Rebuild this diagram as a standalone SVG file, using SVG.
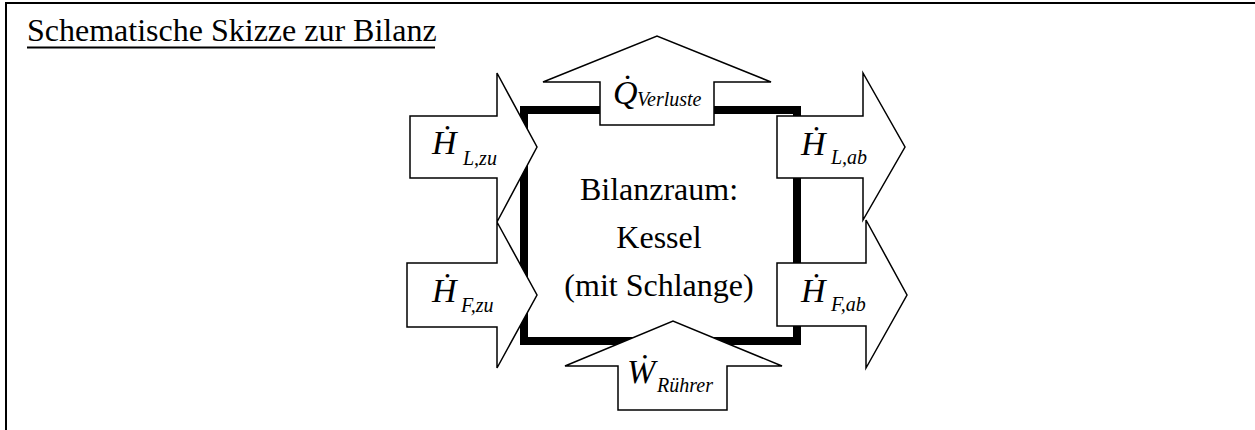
<svg xmlns="http://www.w3.org/2000/svg" width="1255" height="430" viewBox="0 0 1255 430">
<style>
.frame{fill:none;stroke:#000;stroke-width:2}
.box{fill:#fff;stroke:#000;stroke-width:8}
.arr{fill:#fff;stroke:#000;stroke-width:1.5;stroke-linejoin:miter}
.t{font-family:"Liberation Serif","Times New Roman",serif;fill:#000}
.title{font-size:32px}
.center{font-size:32px;text-anchor:middle}
.sym{font-size:34px;font-style:italic}
.sub{font-size:20px;font-style:italic}
</style>
<rect width="1255" height="430" fill="#fff"/>
<g id="frame">
<path class="frame" d="M6,430 V3 H1255"/>
<text class="t title" x="27" y="41">Schematische Skizze zur Bilanz</text>
<line x1="27" y1="47.5" x2="435" y2="47.5" stroke="#000" stroke-width="2"/>
</g>
<g id="bilanzraum">
<rect class="box" x="524" y="110" width="273" height="231"/>
<text class="t center" x="659" y="200">Bilanzraum:</text>
<text class="t center" x="659" y="248">Kessel</text>
<text class="t center" x="659" y="296">(mit Schlange)</text>
</g>
<g id="connectors">
<g id="q_verluste">
<path class="arr" d="M600,125 V82 H543 L657,36 L771,82 H714 V125 Z"/>
<text class="t sym" x="613" y="104">Q̇</text>
<text class="t sub" x="637" y="106">Verluste</text>
</g>
<g id="h_l_zu">
<path class="arr" d="M410,116 H497 V73 L537,147 L497,222 V178 H410 Z"/>
<text class="t sym" x="432" y="154">Ḣ</text>
<text class="t sub" x="463" y="165">L,zu</text>
</g>
<g id="h_f_zu">
<path class="arr" d="M407,263 H497 V222 L537,295 L497,368 V327 H407 Z"/>
<text class="t sym" x="432" y="302">Ḣ</text>
<text class="t sub" x="461" y="312">F,zu</text>
</g>
<g id="h_l_ab">
<path class="arr" d="M777,116 H863 V73 L905,147 L863,220 V178 H777 Z"/>
<text class="t sym" x="801" y="155">Ḣ</text>
<text class="t sub" x="831" y="164">L,ab</text>
</g>
<g id="h_f_ab">
<path class="arr" d="M777,263 H866 V220 L907,295 L866,368 V326 H777 Z"/>
<text class="t sym" x="801" y="302">Ḣ</text>
<text class="t sub" x="831" y="311">F,ab</text>
</g>
<g id="w_ruehrer">
<path class="arr" d="M618,410 V366 H565 L673,321 L782,366 H727 V410 Z"/>
<text class="t sym" x="627" y="383">Ẇ</text>
<text class="t sub" x="657" y="392">Rührer</text>
</g>
</g>
</svg>
